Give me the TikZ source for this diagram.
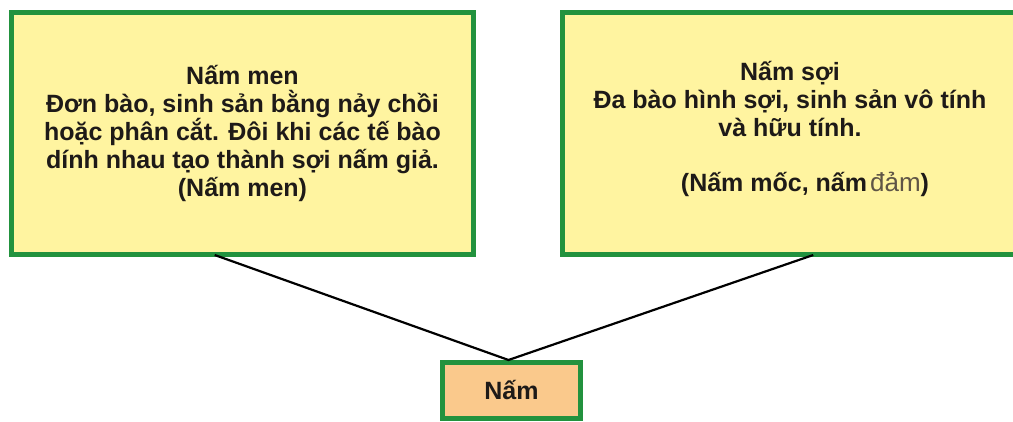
\documentclass[tikz,border=0pt]{standalone}
\usepackage{fontspec}
\setmainfont{Liberation Sans}
\usetikzlibrary{calc}
\definecolor{boxgreen}{RGB}{34,146,62}
\definecolor{boxyellow}{RGB}{255,244,160}
\definecolor{boxorange}{RGB}{250,201,140}
\definecolor{inkdark}{RGB}{30,26,24}
\definecolor{inklight}{RGB}{95,85,70}
\begin{document}
\begin{tikzpicture}[x=1pt,y=-1pt,
  infobox/.style={draw=boxgreen, line width=5pt, fill=boxyellow, rectangle,
    align=center, inner sep=0pt, text=inkdark,
    font=\fontsize{25}{28}\selectfont\bfseries},
  rootbox/.style={draw=boxgreen, line width=5pt, fill=boxorange, rectangle,
    inner sep=0pt, text=inkdark,
    font=\fontsize{25}{28}\selectfont\bfseries},
  link/.style={draw=black, line width=2.2pt}]
\clip (0,0) rectangle (1013,421);
\fill[white] (0,0) rectangle (1013,421);
\node[infobox, minimum width=462pt, minimum height=242pt] (L) at (242.5,133.5)
  {Nấm men\\Đơn bào, sinh sản bằng nảy chồi\\hoặc phân cắt. Đôi khi các tế bào\\dính nhau tạo thành sợi nấm giả.\\(Nấm men)};
\node[infobox, minimum width=460pt, minimum height=242pt] (R) at (792.5,133.5)
  {};
\node[align=center, inner sep=0pt, text=inkdark,
    font=\fontsize{25}{28}\selectfont\bfseries] (Rt) at (790,128.5)
  {Nấm sợi\\Đa bào hình sợi, sinh sản vô tính\\và hữu tính.\\[27pt]\hspace*{30pt}(Nấm mốc, nấm\hspace{3pt}{\mdseries\color{inklight}\fontsize{26}{28}\selectfont đảm})};
\node[rootbox, minimum width=138pt, minimum height=56pt] (N) at (511.5,390.5) {Nấm};
\coordinate (Ls) at ($(L.south west)!0.4405!(L.south east)+(0,-2)$);
\coordinate (Rs) at ($(R.south west)!0.5446!(R.south east)+(0,-2)$);
\coordinate (apex) at ($(N.north)+(-3,0)$);
\draw[link] (Ls) -- (apex) -- (Rs);
\end{tikzpicture}
\end{document}
